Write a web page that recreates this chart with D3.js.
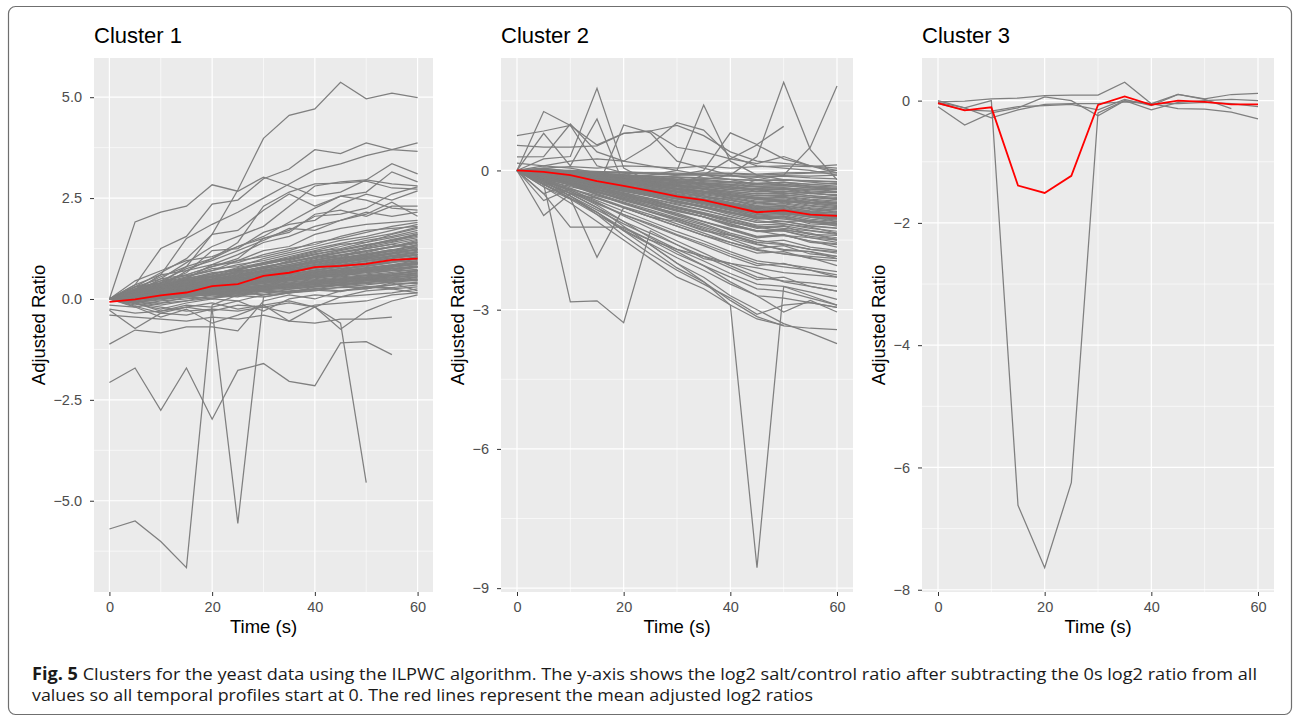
<!DOCTYPE html>
<html>
<head>
<meta charset="utf-8">
<title>Clusters for the yeast data</title>
<script src="https://d3js.org/d3.v7.min.js"></script>
<style>
  body { margin: 0; background: #fff; }
  svg text { font-family: "Liberation Sans", Arial, Helvetica, sans-serif; }
</style>
</head>
<body>
<script>
// time points (s)
var times = [0, 5, 10, 15, 20, 25, 30, 35, 40, 45, 50, 55, 60];

// cluster 1: adjusted log2 ratios, one row per gene (null = no value)
var cluster1Genes = [
  [0, 0.30, 0.65, 1.00, 1.60, 2.70, 3.98, 4.55, 4.71, 5.37, 4.96, 5.10, 4.99],
  [0, 1.91, 2.15, 2.30, 2.83, 2.67, 3.02, 2.80, 2.55, 2.65, 2.95, 2.85, 2.80],
  [0, 0.35, 1.25, 1.55, 2.35, 2.45, 2.98, 3.22, 3.70, 3.60, 3.87, 3.70, 3.66],
  [0, 0.20, 0.60, 1.50, 1.85, 2.15, 2.50, 2.85, 3.20, 3.35, 3.55, 3.70, 3.87],
  [0, 0.10, 0.40, 0.80, 1.00, 1.40, 2.30, 2.65, 2.85, 2.87, 2.92, 2.75, 2.72],
  [0, 0.15, 0.50, 0.90, 1.30, 1.55, 1.80, 2.30, 2.80, 2.90, 2.95, 3.35, 3.10],
  [0, 0.25, 0.55, 0.80, 1.60, 1.70, 2.20, 2.60, 2.30, 2.55, 2.65, 3.15, 2.90],
  [0, 0.10, 0.30, 0.70, 1.00, 1.30, 1.55, 1.90, 2.25, 2.55, 2.45, 2.25, 2.20],
  [0, 0.15, 0.40, 0.60, 0.80, 1.00, 1.50, 1.65, 2.10, 2.20, 2.05, 2.30, 2.30],
  [0, 0.20, 0.45, 0.75, 0.95, 1.20, 1.45, 1.75, 1.70, 1.95, 2.10, 2.40, 2.05],
  [0, 0.05, 0.30, 0.50, 0.85, 1.10, 1.40, 1.55, 1.80, 1.95, 2.15, 2.05, 2.15],
  [0, 0.10, 0.25, 0.55, 0.70, 0.95, 1.20, 1.30, 1.60, 1.75, 1.85, 1.90, 1.95],
  [0, 0.45, 0.70, 0.95, 1.05, 1.30, 1.50, 1.70, 2.05, 2.10, 2.25, 2.60, 2.78],
  [0, 0.30, 0.40, 0.65, 1.20, 1.25, 1.65, 1.85, 1.95, 2.35, 2.60, 2.45, 2.68],
  [0, 0.08, 0.12, 0.20, 0.28, 0.30, 0.42, 0.50, 0.62, 0.70, 0.78, 0.85, 0.95],
  [0, -0.05, 0.05, 0.10, 0.15, 0.22, 0.30, 0.35, 0.40, 0.45, 0.50, 0.55, 0.60],
  [0, 0.15, 0.25, 0.35, 0.50, 0.60, 0.75, 0.85, 1.00, 1.10, 1.20, 1.30, 1.40],
  [0, 0.05, 0.00, 0.05, 0.10, 0.12, 0.20, 0.18, 0.25, 0.28, 0.30, 0.25, 0.30],
  [0, 0.20, 0.35, 0.50, 0.65, 0.70, 0.90, 1.05, 1.20, 1.35, 1.40, 1.60, 1.75],
  [0, -0.10, 0.05, 0.15, 0.20, 0.35, 0.45, 0.50, 0.60, 0.55, 0.70, 0.75, 0.80],
  [0, 0.10, 0.20, 0.15, 0.35, 0.40, 0.55, 0.65, 0.75, 0.85, 0.95, 1.05, 1.15],
  [0, 0.02, 0.10, 0.12, 0.18, 0.25, 0.30, 0.32, 0.45, 0.40, 0.50, 0.45, 0.50],
  [0, 0.25, 0.40, 0.55, 0.75, 0.80, 1.00, 1.15, 1.30, 1.45, 1.55, 1.70, 1.85],
  [0, -0.15, -0.05, 0.00, 0.05, 0.10, 0.15, 0.20, 0.25, 0.20, 0.30, 0.28, 0.35],
  [0, 0.12, 0.30, 0.40, 0.55, 0.65, 0.80, 0.90, 1.05, 1.15, 1.25, 1.35, 1.25],
  [0, 0.05, 0.15, 0.25, 0.30, 0.40, 0.50, 0.55, 0.65, 0.75, 0.80, 0.90, 1.05],
  [0, 0.18, 0.25, 0.45, 0.50, 0.70, 0.75, 0.95, 1.10, 1.00, 1.30, 1.45, 1.55],
  [0, -0.05, -0.10, 0.05, 0.00, 0.15, 0.10, 0.25, 0.30, 0.35, 0.40, 0.50, 0.45],
  [0, 0.30, 0.50, 0.60, 0.80, 0.95, 1.05, 1.20, 1.40, 1.50, 1.65, 1.80, 1.90],
  [0, 0.00, 0.08, 0.15, 0.25, 0.28, 0.35, 0.45, 0.50, 0.60, 0.62, 0.70, 0.72],
  [0, 0.10, 0.18, 0.30, 0.38, 0.50, 0.60, 0.70, 0.78, 0.90, 1.00, 1.05, 1.10],
  [0, 0.05, 0.20, 0.25, 0.40, 0.45, 0.62, 0.75, 0.85, 0.95, 1.05, 1.15, 1.30],
  [0, -0.20, -0.10, -0.05, 0.10, 0.05, 0.20, 0.15, 0.30, 0.35, 0.25, 0.40, 0.20],
  [0, 0.15, 0.20, 0.35, 0.42, 0.55, 0.65, 0.80, 0.90, 1.00, 1.10, 1.20, 1.35],
  [0, 0.08, 0.25, 0.30, 0.45, 0.55, 0.70, 0.78, 0.95, 1.08, 1.15, 1.30, 1.45],
  [0, 0.02, 0.05, 0.10, 0.20, 0.18, 0.28, 0.35, 0.38, 0.48, 0.52, 0.58, 0.65],
  [0, 0.22, 0.38, 0.52, 0.60, 0.78, 0.90, 1.02, 1.18, 1.25, 1.40, 1.52, 1.65],
  [0, 0.12, 0.15, 0.28, 0.35, 0.48, 0.52, 0.60, 0.72, 0.80, 0.88, 0.95, 1.00],
  [0, -0.08, 0.00, 0.10, 0.12, 0.20, 0.25, 0.35, 0.45, 0.50, 0.58, 0.60, 0.70],
  [0, 0.35, 0.60, 0.70, 0.85, 0.90, 1.10, 1.25, 1.35, 1.55, 1.70, 1.75, 1.80],
  [0, 0.05, 0.10, 0.18, 0.22, 0.32, 0.40, 0.48, 0.55, 0.65, 0.72, 0.80, 0.88],
  [0, 0.10, 0.28, 0.32, 0.48, 0.60, 0.68, 0.82, 0.92, 1.02, 1.12, 1.22, 1.20],
  [0, -0.12, -0.25, -0.10, 0.00, -0.05, 0.10, 0.15, 0.20, 0.30, 0.35, 0.42, 0.55],
  [0, 0.20, 0.30, 0.48, 0.58, 0.72, 0.85, 0.98, 1.12, 1.22, 1.35, 1.42, 1.60],
  [0, 0.00, 0.12, 0.22, 0.28, 0.38, 0.45, 0.52, 0.62, 0.68, 0.75, 0.82, 0.90],
  [0, 0.15, 0.35, 0.45, 0.62, 0.75, 0.88, 1.00, 1.15, 1.30, 1.45, 1.55, 1.70],
  [0, 0.05, 0.15, 0.22, 0.35, 0.42, 0.55, 0.62, 0.70, 0.82, 0.90, 1.00, 1.08],
  [0, 0.10, 0.05, 0.12, 0.18, 0.22, 0.25, 0.30, 0.38, 0.42, 0.48, 0.40, 0.38],
  [0, 0.25, 0.45, 0.58, 0.70, 0.85, 0.95, 1.10, 1.25, 1.38, 1.50, 1.62, 1.78],
  [0, -0.05, 0.08, 0.18, 0.30, 0.32, 0.45, 0.55, 0.68, 0.72, 0.85, 0.92, 1.02],
  [0, 0.12, 0.22, 0.38, 0.45, 0.58, 0.72, 0.82, 0.95, 1.05, 1.18, 1.28, 1.38],
  [0, 0.08, 0.18, 0.28, 0.40, 0.50, 0.58, 0.70, 0.80, 0.92, 1.02, 1.12, 1.22],
  [0, -0.10, -0.30, -0.15, -0.20, -0.05, -0.30, 0.00, 0.10, 0.05, 0.20, 0.25, 0.15],
  [0, 0.18, 0.32, 0.42, 0.55, 0.68, 0.78, 0.92, 1.05, 1.20, 1.32, 1.48, 1.58],
  [0, 0.05, 0.12, 0.18, 0.25, 0.32, 0.38, 0.45, 0.52, 0.58, 0.65, 0.70, 0.78],
  [0, 0.10, 0.15, 0.22, 0.32, 0.38, 0.48, 0.58, 0.65, 0.72, 0.82, 0.90, 0.98],
  [0, 0.02, 0.08, 0.12, 0.20, 0.25, 0.32, 0.38, 0.42, 0.50, 0.55, 0.62, 0.68],
  [0, 0.08, 0.20, 0.28, 0.38, 0.48, 0.55, 0.68, 0.78, 0.85, 0.95, 1.02, 1.12],
  [0, -0.02, 0.05, 0.08, 0.15, 0.18, 0.25, 0.30, 0.35, 0.40, 0.45, 0.48, 0.55],
  [0, 0.12, 0.18, 0.25, 0.35, 0.45, 0.52, 0.62, 0.70, 0.80, 0.88, 0.96, 1.05],
  [0, 0.06, 0.14, 0.20, 0.30, 0.35, 0.45, 0.52, 0.60, 0.68, 0.72, 0.80, 0.85],
  [0, 0.15, 0.28, 0.38, 0.48, 0.58, 0.68, 0.78, 0.88, 0.98, 1.08, 1.18, 1.28],
  [0, 0.04, 0.10, 0.16, 0.22, 0.28, 0.35, 0.42, 0.48, 0.55, 0.60, 0.66, 0.74],
  [0, 0.09, 0.16, 0.26, 0.34, 0.42, 0.50, 0.60, 0.68, 0.76, 0.84, 0.92, 0.94],
  [0, -0.08, -0.02, 0.06, 0.12, 0.16, 0.22, 0.28, 0.32, 0.38, 0.42, 0.46, 0.50],
  [0, 0.20, 0.28, 0.40, 0.50, 0.62, 0.70, 0.82, 0.92, 1.02, 1.10, 1.20, 1.32],
  [0, 0.03, 0.11, 0.17, 0.26, 0.30, 0.40, 0.47, 0.56, 0.62, 0.70, 0.76, 0.82],
  [0, 0.13, 0.22, 0.33, 0.40, 0.52, 0.60, 0.72, 0.80, 0.90, 0.98, 1.08, 1.16],
  [0, 0.07, 0.13, 0.24, 0.28, 0.36, 0.42, 0.50, 0.58, 0.64, 0.70, 0.78, 0.88],
  [0, 0.06, 0.10, 0.14, 0.22, 0.26, 0.33, 0.37, 0.44, 0.48, 0.53, 0.58, 0.62],
  [0, 0.11, 0.19, 0.27, 0.36, 0.44, 0.53, 0.62, 0.71, 0.79, 0.87, 0.95, 1.03],
  [0, 0.14, 0.24, 0.36, 0.46, 0.56, 0.66, 0.76, 0.86, 0.96, 1.06, 1.14, 1.24],
  [0, 0.03, 0.07, 0.11, 0.16, 0.20, 0.27, 0.31, 0.36, 0.41, 0.47, 0.52, 0.58],
  [0, 0.17, 0.30, 0.42, 0.53, 0.64, 0.75, 0.86, 0.97, 1.08, 1.19, 1.30, 1.42],
  [0, -0.04, 0.02, 0.09, 0.13, 0.19, 0.26, 0.31, 0.37, 0.43, 0.49, 0.53, 0.60],
  [0, 0.08, 0.17, 0.23, 0.33, 0.40, 0.47, 0.55, 0.63, 0.70, 0.77, 0.84, 0.92],
  [0, 0.21, 0.34, 0.46, 0.57, 0.68, 0.80, 0.92, 1.04, 1.16, 1.28, 1.40, 1.52],
  [0, 0.01, 0.04, 0.09, 0.14, 0.17, 0.23, 0.27, 0.33, 0.36, 0.41, 0.44, 0.48],
  [0, 0.10, 0.21, 0.31, 0.41, 0.51, 0.61, 0.71, 0.81, 0.91, 1.01, 1.11, 1.18],
  [0, 0.05, 0.13, 0.19, 0.27, 0.34, 0.41, 0.49, 0.54, 0.61, 0.68, 0.74, 0.80],
  [0, 0.16, 0.26, 0.37, 0.47, 0.59, 0.69, 0.79, 0.91, 1.01, 1.12, 1.22, 1.34],
  [0, -0.06, -0.15, -0.05, 0.02, 0.08, 0.05, 0.15, 0.22, 0.18, 0.30, 0.35, 0.42],
  [0, 0.09, 0.14, 0.21, 0.29, 0.35, 0.43, 0.51, 0.57, 0.66, 0.73, 0.79, 0.86],
  [0, 0.12, 0.23, 0.34, 0.43, 0.54, 0.63, 0.74, 0.83, 0.94, 1.03, 1.13, 1.22],
  [0, 0.04, 0.09, 0.15, 0.21, 0.27, 0.33, 0.40, 0.46, 0.52, 0.58, 0.63, 0.70],
  [0, 0.19, 0.33, 0.44, 0.56, 0.67, 0.78, 0.90, 1.02, 1.14, 1.25, 1.36, 1.48],
  [0, 0.07, 0.15, 0.21, 0.31, 0.37, 0.46, 0.54, 0.61, 0.69, 0.76, 0.83, 0.90],
  [0, -0.18, -0.35, -0.20, -0.10, -0.25, -0.15, -0.05, -0.20, 0.05, 0.10, 0.15, 0.25],
  [0, 0.02, 0.09, 0.14, 0.18, 0.24, 0.29, 0.35, 0.40, 0.46, 0.50, 0.57, 0.64],
  [0, 0.13, 0.20, 0.31, 0.39, 0.49, 0.57, 0.67, 0.76, 0.84, 0.93, 1.01, 1.10],
  [0, 0.11, 0.22, 0.30, 0.42, 0.50, 0.60, 0.70, 0.79, 0.88, 0.99, 1.07, 1.15],
  [0, 0.06, 0.12, 0.20, 0.26, 0.33, 0.39, 0.47, 0.53, 0.60, 0.67, 0.72, 0.79],
  [0, -0.03, 0.03, 0.07, 0.12, 0.14, 0.20, 0.24, 0.30, 0.33, 0.38, 0.42, 0.46],
  [0, 0.24, 0.36, 0.50, 0.62, 0.74, 0.86, 0.98, 1.10, 1.22, 1.34, 1.46, 1.62],
  // the ones that wander below zero
  [-5.70, -5.50, -6.01, -6.66, -0.15, 0.10, 0.25, 0.35, 0.40, 0.50, 0.55, 0.60, 0.70],
  [0, -0.10, -0.20, -0.30, -0.25, -5.56, 0.05, 0.15, 0.25, 0.35, 0.45, 0.50, 0.55],
  [-2.07, -1.71, -2.76, -1.71, -2.98, -1.77, -1.60, -2.04, -2.15, -1.09, -1.06, -1.38, null],
  [-1.12, -0.77, -0.84, -0.69, -0.69, -0.79, -0.05, 0.10, 0.00, 0.20, 0.25, 0.35, 0.40],
  [-0.25, -0.35, -0.30, -0.20, -0.30, -0.15, -0.20, -0.10, -0.20, -0.60, -4.55, null, null],
  [-0.40, -0.45, -0.50, -0.55, -0.45, -0.50, -0.40, -0.55, -0.60, -0.50, -0.50, -0.45, null],
  [-0.28, -0.73, -0.35, -0.40, -0.25, -0.30, -0.20, -0.35, -0.15, -0.10, -0.05, 0.10, 0.15],
  [-0.15, -0.20, -0.45, -0.25, -0.60, -0.40, -0.15, -0.55, -0.20, -0.75, -0.30, -0.05, 0.10]
];
var cluster1Mean = [-0.07, -0.01, 0.09, 0.16, 0.32, 0.37, 0.57, 0.65, 0.79, 0.82, 0.87, 0.97, 1.00];

// cluster 2
var cluster2Genes = [
  [0, 0.05, 0.08, 0.05, 0.10, 0.08, 0.05, 0.10, 0.05, 0.08, 0.10, 0.08, 0.12],
  [0, 0.00, -0.02, -0.05, -0.03, -0.05, -0.08, -0.05, -0.06, -0.08, -0.05, -0.04, 0.00],
  [0, -0.05, -0.10, -0.12, -0.15, -0.18, -0.20, -0.22, -0.25, -0.28, -0.25, -0.30, -0.28],
  [0, -0.02, -0.08, -0.15, -0.22, -0.30, -0.35, -0.40, -0.48, -0.55, -0.52, -0.58, -0.60],
  [0, -0.05, -0.12, -0.20, -0.30, -0.38, -0.48, -0.55, -0.65, -0.75, -0.72, -0.80, -0.85],
  [0, -0.08, -0.15, -0.28, -0.38, -0.50, -0.60, -0.70, -0.82, -0.95, -0.92, -1.00, -1.05],
  [0, -0.10, -0.20, -0.35, -0.48, -0.60, -0.72, -0.85, -1.00, -1.12, -1.10, -1.20, -1.25],
  [0, -0.12, -0.25, -0.42, -0.58, -0.72, -0.88, -1.00, -1.18, -1.32, -1.30, -1.42, -1.48],
  [0, -0.15, -0.30, -0.50, -0.68, -0.85, -1.02, -1.18, -1.38, -1.55, -1.50, -1.65, -1.72],
  [0, -0.18, -0.38, -0.60, -0.80, -1.00, -1.20, -1.40, -1.60, -1.78, -1.75, -1.90, -1.95],
  [0, -0.20, -0.45, -0.70, -0.95, -1.18, -1.40, -1.62, -1.85, -2.05, -2.00, -2.15, -2.25],
  [0, -0.25, -0.50, -0.80, -1.10, -1.35, -1.60, -1.85, -2.10, -2.35, -2.30, -2.50, -2.60],
  [0, -0.22, -0.55, -0.90, -1.25, -1.50, -1.80, -2.05, -2.30, -2.55, -2.60, -2.75, -2.90],
  [0, 0.10, 0.05, -0.05, -0.10, -0.20, -0.15, -0.30, -0.35, -0.45, -0.40, -0.50, -0.45],
  [0, -0.05, 0.00, -0.08, -0.15, -0.12, -0.25, -0.30, -0.38, -0.42, -0.50, -0.48, -0.55],
  [0, 0.05, -0.02, -0.10, -0.18, -0.25, -0.30, -0.40, -0.52, -0.58, -0.65, -0.70, -0.75],
  [0, -0.10, -0.18, -0.22, -0.35, -0.42, -0.55, -0.62, -0.75, -0.88, -0.82, -0.95, -0.98],
  [0, -0.03, -0.10, -0.18, -0.28, -0.35, -0.45, -0.58, -0.62, -0.78, -0.85, -0.90, -0.92],
  [0, -0.12, -0.22, -0.30, -0.42, -0.55, -0.65, -0.78, -0.90, -1.05, -1.00, -1.15, -1.18],
  [0, -0.08, -0.18, -0.32, -0.45, -0.52, -0.68, -0.80, -0.95, -1.08, -1.15, -1.22, -1.35],
  [0, -0.15, -0.25, -0.38, -0.50, -0.65, -0.80, -0.92, -1.10, -1.25, -1.20, -1.38, -1.40],
  [0, -0.05, -0.15, -0.28, -0.40, -0.55, -0.70, -0.78, -0.92, -1.02, -1.10, -1.08, -1.15],
  [0, -0.20, -0.35, -0.48, -0.62, -0.78, -0.92, -1.10, -1.25, -1.42, -1.38, -1.55, -1.60],
  [0, -0.10, -0.25, -0.40, -0.55, -0.70, -0.85, -1.00, -1.15, -1.30, -1.28, -1.35, -1.50],
  [0, -0.18, -0.30, -0.45, -0.65, -0.80, -0.98, -1.15, -1.35, -1.50, -1.58, -1.70, -1.78],
  [0, -0.12, -0.28, -0.45, -0.60, -0.75, -0.95, -1.10, -1.28, -1.45, -1.40, -1.52, -1.65],
  [0, -0.25, -0.40, -0.58, -0.78, -0.95, -1.15, -1.35, -1.55, -1.72, -1.80, -1.88, -2.05],
  [0, -0.15, -0.32, -0.52, -0.72, -0.90, -1.08, -1.28, -1.48, -1.68, -1.62, -1.80, -1.85],
  [0, -0.28, -0.48, -0.72, -0.95, -1.15, -1.38, -1.58, -1.80, -2.00, -2.08, -2.15, -2.30],
  [0, -0.05, -0.12, -0.25, -0.35, -0.48, -0.58, -0.70, -0.80, -0.92, -0.90, -1.00, -1.10],
  [0, -0.10, -0.15, -0.25, -0.32, -0.45, -0.52, -0.62, -0.72, -0.80, -0.78, -0.88, -0.82],
  [0, -0.02, -0.06, -0.12, -0.18, -0.25, -0.32, -0.38, -0.45, -0.50, -0.48, -0.55, -0.62],
  [0, -0.08, -0.10, -0.18, -0.22, -0.32, -0.40, -0.45, -0.55, -0.62, -0.58, -0.68, -0.70],
  [0, 0.02, -0.05, -0.08, -0.12, -0.15, -0.22, -0.28, -0.30, -0.35, -0.32, -0.38, -0.40],
  [0, -0.30, -0.55, -0.85, -1.15, -1.42, -1.70, -1.95, -2.22, -2.45, -2.50, -2.62, -2.78],
  [0, -0.22, -0.42, -0.65, -0.88, -1.10, -1.32, -1.52, -1.75, -1.95, -2.02, -2.10, -2.18],
  [0, -0.35, -0.62, -0.95, -1.28, -1.58, -1.88, -2.15, -2.45, -2.70, -2.75, -2.85, -2.95],
  [0, -0.18, -0.42, -0.68, -0.98, -1.25, -1.52, -1.78, -2.05, -2.30, -2.38, -2.42, -2.50],
  [0, -0.12, -0.20, -0.35, -0.55, -0.62, -0.80, -0.95, -1.05, -1.20, -1.25, -1.30, -1.38],
  [0, -0.06, -0.14, -0.22, -0.32, -0.42, -0.52, -0.65, -0.72, -0.85, -0.95, -0.92, -1.02],
  [0, -0.16, -0.28, -0.42, -0.52, -0.68, -0.82, -0.95, -1.12, -1.22, -1.30, -1.45, -1.55],
  [0, -0.04, -0.10, -0.16, -0.24, -0.30, -0.38, -0.46, -0.52, -0.60, -0.70, -0.65, -0.72],
  [0, -0.20, -0.30, -0.52, -0.70, -0.88, -1.05, -1.22, -1.40, -1.58, -1.72, -1.75, -1.90],
  [0, -0.02, -0.05, -0.08, -0.12, -0.15, -0.18, -0.20, -0.24, -0.28, -0.26, -0.30, -0.34],
  [0, -0.04, -0.08, -0.14, -0.20, -0.26, -0.32, -0.36, -0.42, -0.46, -0.44, -0.50, -0.52],
  [0, -0.06, -0.12, -0.20, -0.28, -0.36, -0.44, -0.52, -0.60, -0.68, -0.66, -0.72, -0.78],
  [0, -0.03, -0.06, -0.10, -0.14, -0.20, -0.22, -0.28, -0.32, -0.36, -0.38, -0.40, -0.45],
  [0, -0.08, -0.16, -0.26, -0.36, -0.46, -0.56, -0.66, -0.76, -0.86, -0.84, -0.92, -0.95],
  [0, -0.01, -0.03, -0.04, -0.06, -0.08, -0.10, -0.10, -0.12, -0.15, -0.12, -0.16, -0.18],
  [0, -0.05, -0.10, -0.16, -0.24, -0.30, -0.38, -0.44, -0.50, -0.58, -0.56, -0.62, -0.66],
  [0, -0.07, -0.14, -0.22, -0.32, -0.40, -0.50, -0.58, -0.68, -0.78, -0.75, -0.82, -0.88],
  [0, -0.10, -0.18, -0.30, -0.40, -0.52, -0.62, -0.74, -0.86, -0.98, -0.95, -1.05, -1.10],
  [0, 0.02, 0.00, -0.02, -0.04, -0.05, -0.06, -0.08, -0.07, -0.10, -0.08, -0.06, -0.05],
  [0, -0.04, -0.09, -0.13, -0.18, -0.23, -0.28, -0.33, -0.38, -0.42, -0.40, -0.46, -0.48],
  [0, -0.09, -0.17, -0.27, -0.38, -0.48, -0.58, -0.69, -0.80, -0.90, -0.88, -0.96, -1.02],
  [0, -0.02, -0.07, -0.11, -0.16, -0.19, -0.25, -0.29, -0.35, -0.39, -0.37, -0.42, -0.40],
  [0, -0.06, -0.11, -0.18, -0.26, -0.33, -0.41, -0.48, -0.56, -0.63, -0.61, -0.68, -0.72],
  [0, -0.11, -0.21, -0.33, -0.45, -0.56, -0.68, -0.80, -0.92, -1.04, -1.02, -1.12, -1.16],
  [0, -0.03, -0.07, -0.12, -0.17, -0.22, -0.27, -0.31, -0.36, -0.41, -0.39, -0.44, -0.47],
  [0, -0.05, -0.11, -0.17, -0.25, -0.31, -0.39, -0.46, -0.53, -0.60, -0.58, -0.64, -0.69],
  [0, -0.08, -0.15, -0.24, -0.34, -0.43, -0.53, -0.62, -0.72, -0.82, -0.80, -0.87, -0.92],
  [0, -0.01, -0.04, -0.06, -0.09, -0.12, -0.14, -0.16, -0.19, -0.21, -0.20, -0.23, -0.25],
  [0, -0.10, -0.19, -0.29, -0.41, -0.51, -0.62, -0.72, -0.84, -0.95, -0.93, -1.01, -1.07],
  [0, -0.12, -0.23, -0.36, -0.49, -0.61, -0.74, -0.86, -0.99, -1.12, -1.09, -1.19, -1.24],
  [0, -0.04, -0.06, -0.11, -0.15, -0.18, -0.24, -0.26, -0.30, -0.34, -0.33, -0.37, -0.38],
  [0, -0.06, -0.13, -0.21, -0.30, -0.38, -0.47, -0.55, -0.64, -0.72, -0.70, -0.77, -0.82],
  [0, -0.02, -0.04, -0.07, -0.10, -0.12, -0.15, -0.17, -0.19, -0.22, -0.21, -0.22, -0.24],
  [0, -0.09, -0.18, -0.28, -0.39, -0.49, -0.60, -0.70, -0.81, -0.92, -0.90, -0.98, -1.04],
  [0, -0.13, -0.26, -0.40, -0.54, -0.67, -0.81, -0.94, -1.08, -1.22, -1.19, -1.29, -1.36],
  [0, -0.05, -0.09, -0.15, -0.21, -0.27, -0.33, -0.39, -0.45, -0.51, -0.49, -0.54, -0.58],
  [0, -0.07, -0.16, -0.25, -0.35, -0.44, -0.55, -0.64, -0.74, -0.84, -0.82, -0.90, -0.96],
  [0, 0.01, -0.01, -0.03, -0.05, -0.06, -0.09, -0.09, -0.11, -0.13, -0.11, -0.12, -0.10],
  [0, -0.11, -0.20, -0.32, -0.44, -0.54, -0.66, -0.77, -0.89, -1.00, -0.98, -1.08, -1.13],
  [0, -0.03, -0.08, -0.13, -0.19, -0.24, -0.30, -0.35, -0.41, -0.46, -0.45, -0.49, -0.54],
  [0, -0.14, -0.27, -0.42, -0.57, -0.71, -0.86, -1.00, -1.15, -1.30, -1.27, -1.38, -1.45],
  [0, -0.06, -0.12, -0.19, -0.27, -0.34, -0.42, -0.50, -0.58, -0.66, -0.64, -0.70, -0.75],
  [0, -0.16, -0.31, -0.47, -0.63, -0.79, -0.95, -1.11, -1.27, -1.43, -1.40, -1.52, -1.58],
  [0, -0.02, -0.06, -0.09, -0.13, -0.17, -0.20, -0.24, -0.27, -0.31, -0.30, -0.33, -0.36],
  [0, -0.08, -0.17, -0.26, -0.37, -0.47, -0.57, -0.67, -0.78, -0.88, -0.86, -0.94, -0.99],
  [0, -0.10, -0.21, -0.31, -0.43, -0.55, -0.66, -0.78, -0.90, -1.02, -0.99, -1.09, -1.14],
  [0, -0.04, -0.10, -0.15, -0.22, -0.28, -0.35, -0.41, -0.48, -0.54, -0.53, -0.58, -0.63],
  [0, -0.12, -0.24, -0.37, -0.51, -0.64, -0.78, -0.91, -1.04, -1.18, -1.15, -1.25, -1.31],
  [0, -0.07, -0.14, -0.23, -0.33, -0.42, -0.52, -0.61, -0.70, -0.80, -0.77, -0.84, -0.90],
  // spikes above zero
  [0.75, 0.85, 0.97, 0.55, 0.80, 0.85, 0.97, 0.75, 0.40, 0.20, 0.15, 0.10, 0.05],
  [0.54, 0.50, 0.50, 0.53, 0.80, 0.85, 0.50, 0.40, 0.25, 0.15, 0.30, 0.10, -0.05],
  [0, 1.27, 0.97, 0.10, -0.05, -0.25, -0.35, -0.45, -0.60, -0.70, -0.65, -0.75, -0.80],
  [0, 0.25, 0.30, 1.77, 0.05, -0.25, -0.40, -0.55, -0.70, -0.85, -0.90, -0.95, -1.00],
  [0, 0.80, 0.10, 1.11, -0.30, -0.50, -0.60, -0.70, -0.85, -1.00, -1.05, -1.10, -1.20],
  [0.29, 0.30, 1.00, 0.40, 0.20, 0.10, 0.00, -0.10, -0.20, -0.30, -0.25, -0.35, -0.40],
  [0, -0.15, -0.30, -0.40, 0.98, 0.81, 0.20, 0.05, -0.10, -0.20, -0.30, -0.35, -0.40],
  [0.16, 0.10, 0.20, 0.25, 0.20, 0.55, 1.03, 0.87, 0.30, 0.10, 0.05, 0.00, -0.10],
  [0, -0.05, -0.10, -0.15, -0.20, -0.10, 0.00, 1.41, 0.20, -0.10, -0.20, -0.25, -0.30],
  [0, -0.10, -0.20, -0.25, -0.30, -0.20, -0.10, 0.00, 0.81, 0.56, 0.95, null, null],
  [0, -0.05, -0.15, -0.20, -0.25, -0.30, -0.25, -0.20, -0.10, 0.30, 1.90, 0.45, -0.20],
  [0, -0.10, -0.20, -0.30, -0.35, -0.40, -0.45, -0.50, -0.40, -0.20, -0.10, 0.50, 1.82],
  [0, -0.05, -0.10, -0.05, -0.15, -0.20, -0.30, -0.10, 0.25, 0.55, 0.25, 0.10, 0.00],
  // spikes and tails below
  [0, -0.30, -2.83, -2.81, -3.28, -1.30, -1.60, -1.90, -2.00, -2.20, -2.40, -2.50, -2.60],
  [0, -0.30, -0.60, -1.87, -0.80, -1.00, -1.20, -1.40, -1.55, -1.70, -1.80, -1.85, -1.90],
  [0, -0.50, -1.22, -1.22, -1.22, -1.50, -1.70, -1.85, -2.00, -2.10, -2.20, -2.25, -2.30],
  [0, -0.30, -0.60, -0.90, -1.30, -1.60, -2.00, -2.40, -2.90, -8.56, -2.50, -2.70, -2.90],
  [0, -0.20, -0.50, -0.80, -1.20, -1.60, -2.00, -2.30, -2.70, -3.00, -3.30, -3.50, -3.73],
  [0, -0.30, -0.60, -0.90, -1.30, -1.70, -2.10, -2.40, -2.80, -3.15, -3.35, -3.40, -3.43],
  [0, -0.35, -0.70, -1.10, -1.50, -1.90, -2.30, -2.55, -2.90, -3.20, -3.34, null, null],
  [0, -0.97, -0.50, -0.60, -0.80, -1.00, -1.10, -1.30, -1.40, -1.55, -1.60, -1.70, -1.75],
  [0, -0.65, -0.40, -0.55, -0.70, -0.90, -1.05, -1.25, -1.45, -1.60, -1.70, -1.75, -1.85],
  [0, -0.50, -0.30, -0.45, -0.60, -0.75, -0.85, -1.00, -1.20, -1.30, -1.40, -1.45, -1.50],
  [0, -0.25, -0.55, -0.95, -1.40, -1.80, -2.15, -2.45, -2.75, -3.10, -2.90, -2.85, -2.95],
  [0, -0.20, -0.45, -0.75, -1.10, -1.45, -1.75, -2.05, -2.40, -2.70, -3.05, -2.80, -3.05]
];
var cluster2Mean = [0, -0.03, -0.10, -0.23, -0.33, -0.44, -0.56, -0.64, -0.77, -0.90, -0.86, -0.95, -0.98];

// cluster 3
var cluster3Genes = [
  [-0.02, -0.01, 0.03, 0.04, 0.08, 0.09, 0.09, 0.30, -0.05, 0.10, 0.03, 0.10, 0.12],
  [-0.10, -0.40, -0.20, -0.12, 0.06, 0.00, -0.25, 0.00, -0.15, -0.03, 0.00, 0.02, 0.00],
  [0.00, -0.12, -0.28, -0.15, -0.06, -0.05, -0.05, -0.02, -0.05, -0.13, -0.14, -0.19, -0.30],
  [-0.05, -0.15, -0.17, -0.10, -0.08, -0.06, -0.15, 0.02, -0.08, 0.10, 0.02, -0.13, null],
  [-0.03, -0.12, 0.00, -6.62, -7.64, -6.25, -0.20, 0.00, -0.05, -0.05, -0.03, -0.05, -0.10]
];
var cluster3Mean = [-0.04, -0.16, -0.11, -1.39, -1.51, -1.23, -0.07, 0.07, -0.07, 0.00, -0.02, -0.06, -0.06];

var clusterNames = ["Cluster 1", "Cluster 2", "Cluster 3"];
var xTicks = [0, 20, 40, 60];
var xMinor = [10, 30, 50];
var yTicks = [[-5, -2.5, 0, 2.5, 5], [-9, -6, -3, 0], [-8, -6, -4, -2, 0]];
var yTickLabels = [["\u22125.0", "\u22122.5", "0.0", "2.5", "5.0"], ["\u22129", "\u22126", "\u22123", "0"], ["\u22128", "\u22126", "\u22124", "\u22122", "0"]];
var yMinor = [[-6.25, -3.75, -1.25, 1.25, 3.75], [-7.5, -4.5, -1.5, 1.5], [-7, -5, -3, -1]];
var xTitle = "Time (s)";
var yTitle = "Adjusted Ratio";

var genes = [cluster1Genes, cluster2Genes, cluster3Genes];
var means = [cluster1Mean, cluster2Mean, cluster3Mean];

// layout
var W = 1294, H = 716;
var panelLeft = [94, 501, 922], panelRight = [433, 853, 1274];
var plotTop = 58, plotBottom = 592;

var svg = d3.select("body").append("svg").attr("width", W).attr("height", H);

// figure frame
svg.append("rect").attr("x", 8.5).attr("y", 6.5).attr("width", 1283).attr("height", 708)
  .attr("rx", 7).attr("fill", "none").attr("stroke", "#6f6f6f").attr("stroke-width", 1.2);

for (var k = 0; k < 3; k++) {
  var L = panelLeft[k], R = panelRight[k];
  var x = d3.scaleLinear().domain([-3, 63]).range([L, R]);
  var all = d3.merge(genes[k].concat([means[k]])).filter(function(v){ return v != null; });
  var ext = d3.extent(all), pad = (ext[1] - ext[0]) * 0.05;
  var y = d3.scaleLinear().domain([ext[0] - pad, ext[1] + pad]).range([plotBottom, plotTop]);

  var g = svg.append("g");
  g.append("rect").attr("x", L).attr("y", plotTop).attr("width", R - L).attr("height", plotBottom - plotTop).attr("fill", "#ebebeb");

  // grid
  g.selectAll(".ymin").data(yMinor[k]).enter().append("line")
    .attr("x1", L).attr("x2", R).attr("y1", function(d){ return y(d); }).attr("y2", function(d){ return y(d); })
    .attr("stroke", "#fff").attr("stroke-width", 0.6);
  g.selectAll(".xmin").data(xMinor).enter().append("line")
    .attr("y1", plotTop).attr("y2", plotBottom).attr("x1", function(d){ return x(d); }).attr("x2", function(d){ return x(d); })
    .attr("stroke", "#fff").attr("stroke-width", 0.6);
  g.selectAll(".ymaj").data(yTicks[k]).enter().append("line")
    .attr("x1", L).attr("x2", R).attr("y1", function(d){ return y(d); }).attr("y2", function(d){ return y(d); })
    .attr("stroke", "#fff").attr("stroke-width", 1.2);
  g.selectAll(".xmaj").data(xTicks).enter().append("line")
    .attr("y1", plotTop).attr("y2", plotBottom).attr("x1", function(d){ return x(d); }).attr("x2", function(d){ return x(d); })
    .attr("stroke", "#fff").attr("stroke-width", 1.2);

  var line = d3.line().defined(function(d){ return d != null; })
    .x(function(d, i){ return x(times[i]); }).y(function(d){ return y(d); });

  g.selectAll(".gene").data(genes[k]).enter().append("path")
    .attr("d", line).attr("fill", "none").attr("stroke", "#7f7f7f").attr("stroke-width", 1.25);
  g.append("path").attr("d", line(means[k])).attr("fill", "none").attr("stroke", "#ff0000").attr("stroke-width", 1.8);

  // axes
  var labs = yTickLabels[k];
  var ya = g.append("g").attr("transform", "translate(" + L + ",0)")
    .call(d3.axisLeft(y).tickValues(yTicks[k]).tickFormat(function(d, i){ return labs[i]; }).tickSize(4).tickPadding(8));
  var xa = g.append("g").attr("transform", "translate(0," + plotBottom + ")")
    .call(d3.axisBottom(x).tickValues(xTicks).tickSize(4).tickPadding(6));
  [ya, xa].forEach(function(a){
    a.select(".domain").remove();
    a.selectAll(".tick line").attr("stroke", "#333");
    a.selectAll(".tick text").attr("fill", "#4d4d4d").style("font-size", "14.5px")
      .style("font-family", "'Liberation Sans', Arial, sans-serif");
  });

  var labelLeft = L + ya.node().getBBox().x;

  g.append("text").attr("x", (L + R) / 2).attr("y", 633).attr("text-anchor", "middle")
    .style("font-size", "18.5px").attr("fill", "#000").text(xTitle);
  g.append("text").attr("transform", "translate(" + (labelLeft - 8) + "," + ((plotTop + plotBottom) / 2) + ") rotate(-90)")
    .attr("text-anchor", "middle").style("font-size", "18.5px").attr("fill", "#000").text(yTitle);
  g.append("text").attr("x", L).attr("y", 43).style("font-size", "22px").attr("fill", "#000").text(clusterNames[k]);
}

// caption
var cap1 = svg.append("text").attr("x", 32).attr("y", 680).attr("textLength", 1225).attr("lengthAdjust", "spacingAndGlyphs")
  .style("font-family", "'Open Sans', 'Noto Sans', sans-serif").style("font-size", "17px").attr("fill", "#1a1a1a");
cap1.append("tspan").style("font-weight", "700").text("Fig. 5");
cap1.append("tspan").text(" Clusters for the yeast data using the ILPWC algorithm. The y-axis shows the log2 salt/control ratio after subtracting the 0s log2 ratio from all");
svg.append("text").attr("x", 32).attr("y", 701).attr("textLength", 781).attr("lengthAdjust", "spacingAndGlyphs")
  .style("font-family", "'Open Sans', 'Noto Sans', sans-serif").style("font-size", "17px").attr("fill", "#1a1a1a")
  .text("values so all temporal profiles start at 0. The red lines represent the mean adjusted log2 ratios");
</script>
</body>
</html>
